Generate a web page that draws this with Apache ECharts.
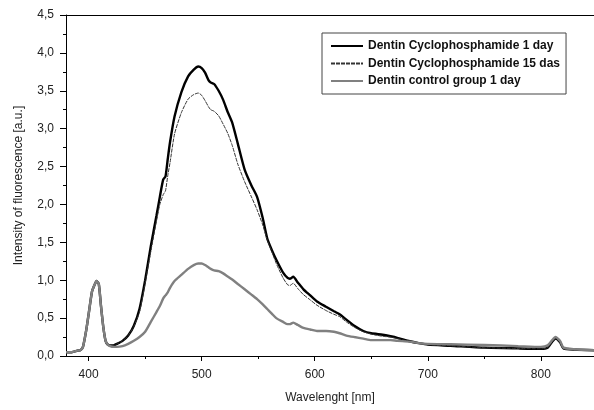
<!DOCTYPE html>
<html>
<head>
<meta charset="utf-8">
<script src="https://cdn.jsdelivr.net/npm/echarts@6/dist/echarts.min.js"></script>
<style>
html, body { margin: 0; padding: 0; background: #fff; }
#chart { width: 594px; height: 410px; }
</style>
</head>
<body>
<div id="chart"></div>
<script>
// wavelength grid (nm)
var wavelength = [380, 385, 390, 393, 395, 398, 400, 403, 405, 407, 409, 411, 413, 415, 417, 419, 422, 425, 430, 435,
	440, 445, 450, 455, 460, 463, 466, 468, 470, 472, 476, 482, 488, 493, 497, 500, 503, 506, 508, 511,
	515, 519, 523, 527, 532, 538, 544, 549, 554, 558, 562, 566, 572, 576, 578, 581, 585, 590, 596, 602,
	610, 617, 622, 628, 635, 643, 650, 660, 667, 673, 684, 692, 700, 720, 750, 780, 800, 806, 810, 813,
	817, 820, 830, 850];

// Dentin Cyclophosphamide 1 day
var cyclo1 = [0.05, 0.05, 0.07, 0.08, 0.12, 0.35, 0.55, 0.85, 0.93, 0.99, 0.95, 0.65, 0.38, 0.2, 0.15, 0.14, 0.14, 0.16, 0.2, 0.27,
	0.4, 0.62, 1.0, 1.45, 1.85, 2.1, 2.33, 2.37, 2.6, 2.82, 3.16, 3.48, 3.69, 3.78, 3.82, 3.80, 3.74, 3.64, 3.61, 3.59,
	3.50, 3.38, 3.22, 3.08, 2.80, 2.46, 2.25, 2.10, 1.82, 1.55, 1.40, 1.27, 1.10, 1.03, 1.02, 1.045, 0.97, 0.88, 0.80, 0.72,
	0.65, 0.59, 0.55, 0.48, 0.40, 0.33, 0.30, 0.28, 0.26, 0.24, 0.195, 0.17, 0.15, 0.135, 0.11, 0.10, 0.095, 0.11, 0.19, 0.23,
	0.18, 0.1, 0.085, 0.075];

// Dentin Cyclophosphamide 15 das
var cyclo15 = [0.05, 0.05, 0.07, 0.08, 0.12, 0.35, 0.55, 0.85, 0.93, 0.99, 0.95, 0.65, 0.38, 0.2, 0.15, 0.14, 0.14, 0.16, 0.2, 0.27,
	0.39, 0.58, 0.96, 1.38, 1.78, 2.0, 2.13, 2.18, 2.38, 2.55, 2.93, 3.21, 3.39, 3.45, 3.47, 3.44, 3.37, 3.29, 3.25, 3.23,
	3.17, 3.06, 2.94, 2.78, 2.53, 2.30, 2.10, 1.93, 1.73, 1.53, 1.38, 1.22, 1.03, 0.94, 0.93, 0.96, 0.89, 0.81, 0.74, 0.67,
	0.60, 0.55, 0.52, 0.45, 0.38, 0.32, 0.29, 0.26, 0.25, 0.23, 0.19, 0.165, 0.15, 0.135, 0.11, 0.10, 0.095, 0.11, 0.19, 0.23,
	0.18, 0.1, 0.085, 0.075];

// Dentin control group 1 day
var control1 = [0.05, 0.05, 0.07, 0.08, 0.12, 0.35, 0.55, 0.85, 0.93, 0.99, 0.95, 0.65, 0.38, 0.2, 0.15, 0.13, 0.12, 0.12, 0.13, 0.16,
	0.2, 0.25, 0.32, 0.45, 0.58, 0.66, 0.76, 0.8, 0.84, 0.9, 0.99, 1.07, 1.15, 1.2, 1.22, 1.22, 1.2, 1.17, 1.15, 1.13,
	1.12, 1.09, 1.05, 1.01, 0.95, 0.88, 0.81, 0.75, 0.68, 0.62, 0.56, 0.50, 0.45, 0.42, 0.42, 0.44, 0.41, 0.37, 0.35, 0.33,
	0.33, 0.32, 0.30, 0.27, 0.25, 0.23, 0.21, 0.21, 0.21, 0.20, 0.19, 0.17, 0.16, 0.155, 0.145, 0.13, 0.12, 0.14, 0.21, 0.25,
	0.2, 0.11, 0.09, 0.075];

var seriesNames = ['Dentin Cyclophosphamide 1 day', 'Dentin Cyclophosphamide 15 das', 'Dentin control group 1 day'];
var xMajorTicks = [400, 500, 600, 700, 800];
var xMinorTicks = [450, 550, 650, 750, 850];

function pairs(ys) {
	var out = [];
	for (var i = 0; i < wavelength.length; i++) {
		out.push([wavelength[i], ys[i]]);
	}
	return out;
}

var chart = echarts.init(document.getElementById('chart'));
var font = 'Liberation Sans, Arial, sans-serif';

var option = {
	animation: false,
	backgroundColor: '#fff',
	grid: { left: 66, right: 0, top: 15, bottom: 54 },
	legend: {
		orient: 'vertical',
		left: 322,
		top: 33,
		padding: [6, 6, 6, 8],
		itemGap: 3.5,
		itemWidth: 32,
		itemHeight: 14,
		borderColor: '#444',
		borderWidth: 1,
		backgroundColor: '#fff',
		itemStyle: { opacity: 0 },
		textStyle: { fontFamily: font, fontSize: 12, fontWeight: 'bold', color: '#111', lineHeight: 14 },
		data: seriesNames
	},
	xAxis: [{
		type: 'value',
		min: 380,
		max: 847,
		name: 'Wavelenght [nm]',
		nameLocation: 'middle',
		nameGap: 36,
		nameTextStyle: { fontFamily: font, fontSize: 12, color: '#222' },
		axisLine: { lineStyle: { color: '#000', width: 1 } },
		axisTick: { customValues: xMajorTicks, length: 5, lineStyle: { color: '#000' } },
		axisLabel: { customValues: xMajorTicks, margin: 13, fontFamily: font, fontSize: 12, color: '#222' },
		splitLine: { show: false }
	}, {
		type: 'value',
		min: 380,
		max: 847,
		position: 'bottom',
		axisLine: { show: false },
		axisTick: { customValues: xMinorTicks, length: 3, lineStyle: { color: '#000' } },
		axisLabel: { show: false },
		splitLine: { show: false }
	}, {
		type: 'value',
		min: 380,
		max: 847,
		position: 'top',
		axisLine: { lineStyle: { color: '#000', width: 1 } },
		axisTick: { show: false },
		axisLabel: { show: false },
		splitLine: { show: false }
	}],
	yAxis: {
		type: 'value',
		min: 0,
		max: 4.5,
		interval: 0.5,
		name: 'Intensity of fluorescence [a.u.]',
		nameLocation: 'middle',
		nameGap: 41,
		nameTextStyle: { fontFamily: font, fontSize: 12, color: '#222' },
		axisLine: { show: true, lineStyle: { color: '#000', width: 1 } },
		axisTick: { show: true, length: 6, lineStyle: { color: '#000' } },
		minorTick: { show: true, splitNumber: 2, length: 3, lineStyle: { color: '#000' } },
		axisLabel: {
			margin: 12,
			fontFamily: font,
			fontSize: 12,
			color: '#222',
			formatter: function(v) { return v.toFixed(1).replace('.', ','); }
		},
		splitLine: { show: false }
	},
	series: [{
		name: seriesNames[0],
		type: 'line',
		symbol: 'none',
		smooth: 0.2,
		color: '#000',
		lineStyle: { color: '#000', width: 2.4 },
		data: pairs(cyclo1)
	}, {
		name: seriesNames[1],
		type: 'line',
		symbol: 'none',
		smooth: 0.2,
		color: '#333',
		lineStyle: { color: '#333', width: 1, type: [4, 1] },
		data: pairs(cyclo15)
	}, {
		name: seriesNames[2],
		type: 'line',
		symbol: 'none',
		smooth: 0.2,
		color: '#808080',
		lineStyle: { color: '#808080', width: 2.4 },
		data: pairs(control1)
	}]
};

chart.setOption(option);
</script>
</body>
</html>
